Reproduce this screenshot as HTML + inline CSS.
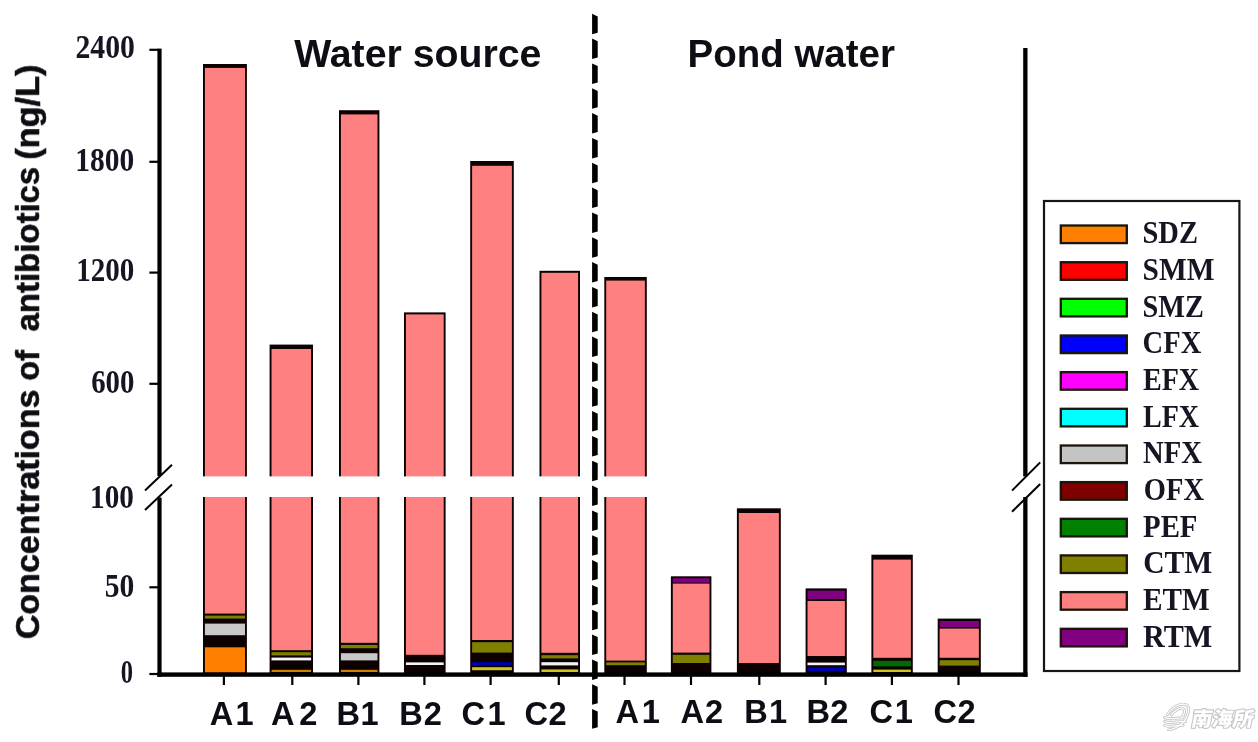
<!DOCTYPE html>
<html lang="en"><head><meta charset="utf-8"><title>Concentrations of antibiotics</title>
<style>
html,body{margin:0;padding:0;background:#fff;}
body{width:1258px;height:742px;overflow:hidden;}
svg{display:block;}
.sans{font-family:"Liberation Sans","Noto Sans CJK SC",sans-serif;font-weight:bold;fill:#0b0b12;}
.serif{font-family:"Liberation Serif","Noto Serif CJK SC",serif;font-weight:bold;fill:#141424;}
.wm{font-family:"Liberation Sans","Noto Sans CJK SC",sans-serif;font-weight:900;}
</style></head><body>
<svg width="1258" height="742" viewBox="0 0 1258 742">
<defs><filter id="soft" x="-2%" y="-2%" width="104%" height="104%"><feGaussianBlur stdDeviation="0.75"/></filter></defs>
<rect x="0" y="0" width="1258" height="742" fill="#ffffff"/>
<g filter="url(#soft)">
<g id="bars">
<rect x="203.0" y="64.0" width="43.9" height="609.4" fill="#0a0303"/>
<rect x="204.9" y="647.3" width="40.1" height="25.3" fill="#FF8000"/>
<rect x="204.9" y="623.6" width="40.1" height="11.6" fill="#C8C8C8"/>
<rect x="204.9" y="615.6" width="40.1" height="3.0" fill="#808000"/>
<rect x="204.9" y="67.9" width="40.1" height="545.7" fill="#FE8080"/>
<rect x="269.6" y="344.6" width="43.4" height="328.8" fill="#0a0303"/>
<rect x="271.5" y="669.8" width="39.6" height="2.2" fill="#D08000"/>
<rect x="271.5" y="657.6" width="39.6" height="2.8" fill="#F4F4F4"/>
<rect x="271.5" y="652.2" width="39.6" height="3.2" fill="#808000"/>
<rect x="271.5" y="349.0" width="39.6" height="301.2" fill="#FE8080"/>
<rect x="339.0" y="110.2" width="40.4" height="563.2" fill="#0a0303"/>
<rect x="340.9" y="669.8" width="36.6" height="2.2" fill="#D08000"/>
<rect x="340.9" y="653.2" width="36.6" height="7.2" fill="#C8C8C8"/>
<rect x="340.9" y="645.0" width="36.6" height="3.2" fill="#808000"/>
<rect x="340.9" y="114.4" width="36.6" height="528.4" fill="#FE8080"/>
<rect x="404.0" y="312.4" width="41.6" height="361.0" fill="#0a0303"/>
<rect x="405.9" y="662.4" width="37.8" height="2.6" fill="#F4F4F4"/>
<rect x="405.9" y="314.4" width="37.8" height="340.4" fill="#FE8080"/>
<rect x="470.2" y="161.0" width="43.6" height="512.4" fill="#0a0303"/>
<rect x="472.1" y="667.2" width="39.8" height="3.0" fill="#CEC41C"/>
<rect x="472.1" y="662.2" width="39.8" height="3.0" fill="#0000B0"/>
<rect x="472.1" y="642.2" width="39.8" height="10.4" fill="#808000"/>
<rect x="472.1" y="165.8" width="39.8" height="474.2" fill="#FE8080"/>
<rect x="539.5" y="270.8" width="40.5" height="402.6" fill="#0a0303"/>
<rect x="541.4" y="669.4" width="36.7" height="2.6" fill="#CEC41C"/>
<rect x="541.4" y="662.2" width="36.7" height="3.2" fill="#F4F4F4"/>
<rect x="541.4" y="655.2" width="36.7" height="3.2" fill="#808000"/>
<rect x="541.4" y="272.8" width="36.7" height="380.0" fill="#FE8080"/>
<rect x="604.3" y="277.0" width="42.5" height="396.4" fill="#0a0303"/>
<rect x="606.2" y="662.4" width="38.7" height="2.8" fill="#808000"/>
<rect x="606.2" y="280.6" width="38.7" height="380.0" fill="#FE8080"/>
<rect x="670.9" y="576.3" width="40.5" height="97.1" fill="#0a0303"/>
<rect x="672.8" y="654.8" width="36.7" height="8.2" fill="#808000"/>
<rect x="672.8" y="583.6" width="36.7" height="69.0" fill="#FE8080"/>
<rect x="672.8" y="578.2" width="36.7" height="4.4" fill="#800080"/>
<rect x="736.9" y="508.3" width="43.9" height="165.1" fill="#0a0303"/>
<rect x="738.8" y="513.0" width="40.1" height="150.0" fill="#FE8080"/>
<rect x="805.6" y="588.4" width="41.2" height="85.0" fill="#0a0303"/>
<rect x="807.5" y="667.2" width="37.4" height="4.0" fill="#0000B0"/>
<rect x="807.5" y="662.6" width="37.4" height="2.6" fill="#F4F4F4"/>
<rect x="807.5" y="601.0" width="37.4" height="55.0" fill="#FE8080"/>
<rect x="807.5" y="590.6" width="37.4" height="8.4" fill="#800080"/>
<rect x="871.4" y="554.7" width="41.4" height="118.7" fill="#0a0303"/>
<rect x="873.3" y="669.6" width="37.6" height="2.4" fill="#CEC41C"/>
<rect x="873.3" y="660.8" width="37.6" height="5.6" fill="#006A00"/>
<rect x="873.3" y="559.6" width="37.6" height="98.2" fill="#FE8080"/>
<rect x="937.7" y="618.6" width="43.1" height="54.8" fill="#0a0303"/>
<rect x="939.6" y="660.2" width="39.3" height="5.4" fill="#808000"/>
<rect x="939.6" y="628.6" width="39.3" height="29.2" fill="#FE8080"/>
<rect x="939.6" y="621.0" width="39.3" height="6.0" fill="#800080"/>
</g>
<rect x="166" y="476.4" width="850" height="20.6" fill="#ffffff"/>
<g id="axes" fill="#000000" stroke="none">
<rect x="157.4" y="48.6" width="4.2" height="427.4"/>
<rect x="157.4" y="497.6" width="4.2" height="179.2"/>
<rect x="1023.2" y="48.0" width="4.3" height="428.4"/>
<rect x="1023.2" y="497.0" width="4.3" height="179.8"/>
<rect x="157.4" y="672.4" width="870.1" height="4.4"/>
<rect x="149.4" y="48.7" width="9" height="2.2"/>
<rect x="149.4" y="160.7" width="9" height="2.2"/>
<rect x="149.4" y="271.5" width="9" height="2.2"/>
<rect x="149.4" y="382.7" width="9" height="2.2"/>
<rect x="149.4" y="586.2" width="9" height="2.2"/>
<rect x="149.4" y="672.9" width="9" height="2.2"/>
<rect x="222.8" y="676" width="2.2" height="9"/>
<rect x="291.2" y="676" width="2.2" height="9"/>
<rect x="357.3" y="676" width="2.2" height="9"/>
<rect x="423.3" y="676" width="2.2" height="9"/>
<rect x="489.5" y="676" width="2.2" height="9"/>
<rect x="557.7" y="676" width="2.2" height="9"/>
<rect x="623.4" y="676" width="2.2" height="9"/>
<rect x="689.9" y="676" width="2.2" height="9"/>
<rect x="758.2" y="676" width="2.2" height="9"/>
<rect x="824.5" y="676" width="2.2" height="9"/>
<rect x="890.8" y="676" width="2.2" height="9"/>
<rect x="957.4" y="676" width="2.2" height="9"/>
</g>
<g id="breaks" stroke="#000" stroke-width="2" stroke-linecap="butt" fill="none">
<line x1="145" y1="490.4" x2="172" y2="464.8"/>
<line x1="145" y1="510.0" x2="172" y2="484.4"/>
<line x1="1012" y1="490.6" x2="1040.2" y2="462.4"/>
<line x1="1012" y1="511.8" x2="1040.2" y2="484.0"/>
</g>
<path id="separator" fill="#000" d="M592.1 13.8L597.7 16.4L597.7 32.8L592.1 34.3ZM592.1 38.6L597.7 41.2L597.7 57.6L592.1 59.1ZM592.1 63.5L597.7 66.1L597.7 82.5L592.1 84.0ZM592.1 88.3L597.7 90.9L597.7 107.3L592.1 108.8ZM592.1 113.1L597.7 115.7L597.7 132.1L592.1 133.6ZM592.1 137.9L597.7 140.5L597.7 156.9L592.1 158.4ZM592.1 162.8L597.7 165.4L597.7 181.8L592.1 183.3ZM592.1 187.6L597.7 190.2L597.7 206.6L592.1 208.1ZM592.1 212.4L597.7 215.0L597.7 231.4L592.1 232.9ZM592.1 237.3L597.7 239.9L597.7 256.3L592.1 257.8ZM592.1 262.1L597.7 264.7L597.7 281.1L592.1 282.6ZM592.1 286.9L597.7 289.5L597.7 305.9L592.1 307.4ZM592.1 311.8L597.7 314.4L597.7 330.8L592.1 332.3ZM592.1 336.6L597.7 339.2L597.7 355.6L592.1 357.1ZM592.1 361.4L597.7 364.0L597.7 380.4L592.1 381.9ZM592.1 386.2L597.7 388.9L597.7 405.2L592.1 406.8ZM592.1 411.1L597.7 413.7L597.7 430.1L592.1 431.6ZM592.1 435.9L597.7 438.5L597.7 454.9L592.1 456.4ZM592.1 460.7L597.7 463.3L597.7 479.7L592.1 481.2ZM592.1 485.6L597.7 488.2L597.7 504.6L592.1 506.1ZM592.1 510.4L597.7 513.0L597.7 529.4L592.1 530.9ZM592.1 535.2L597.7 537.8L597.7 554.2L592.1 555.7ZM592.1 560.1L597.7 562.7L597.7 579.1L592.1 580.6ZM592.1 584.9L597.7 587.5L597.7 603.9L592.1 605.4ZM592.1 609.7L597.7 612.3L597.7 628.7L592.1 630.2ZM592.1 634.5L597.7 637.1L597.7 653.5L592.1 655.0ZM592.1 659.4L597.7 662.0L597.7 678.4L592.1 679.9ZM592.1 684.2L597.7 686.8L597.7 703.2L592.1 704.7ZM592.1 709.0L597.7 711.6L597.7 727.3L592.1 728.8Z"/>
<text class="serif" x="75.43" y="58.0" font-size="33.0" textLength="59.50" lengthAdjust="spacingAndGlyphs">2400</text>
<text class="serif" x="75.37" y="171.0" font-size="33.0" textLength="58.91" lengthAdjust="spacingAndGlyphs">1800</text>
<text class="serif" x="76.20" y="280.6" font-size="33.0" textLength="58.16" lengthAdjust="spacingAndGlyphs">1200</text>
<text class="serif" x="91.17" y="393.4" font-size="33.0" textLength="43.19" lengthAdjust="spacingAndGlyphs">600</text>
<text class="serif" x="90.02" y="507.8" font-size="33.0" textLength="43.85" lengthAdjust="spacingAndGlyphs">100</text>
<text class="serif" x="104.68" y="596.6" font-size="33.0" textLength="29.59" lengthAdjust="spacingAndGlyphs">50</text>
<text class="serif" x="120.75" y="682.8" font-size="33.0" textLength="12.27" lengthAdjust="spacingAndGlyphs">0</text>
<text class="sans" x="294.20" y="67.3" font-size="39.0" textLength="247.24" lengthAdjust="spacingAndGlyphs">Water source</text>
<text class="sans" x="687.62" y="67.3" font-size="39.0" textLength="207.24" lengthAdjust="spacingAndGlyphs">Pond water</text>
<text class="sans" x="209.8 235.6" y="725.2" font-size="32.6">A1</text>
<text class="sans" x="271.0 299.3" y="725.2" font-size="32.6">A2</text>
<text class="sans" x="336.5 360.4" y="725.2" font-size="32.6">B1</text>
<text class="sans" x="399.3 423.7" y="725.2" font-size="32.6">B2</text>
<text class="sans" x="461.4 487.6" y="725.2" font-size="32.6">C1</text>
<text class="sans" x="524.6 548.5" y="725.2" font-size="32.6">C2</text>
<text class="sans" x="615.6 641.7" y="722.9" font-size="32.6">A1</text>
<text class="sans" x="680.5 705.0" y="722.9" font-size="32.6">A2</text>
<text class="sans" x="744.2 768.9" y="722.9" font-size="32.6">B1</text>
<text class="sans" x="806.5 830.3" y="722.9" font-size="32.6">B2</text>
<text class="sans" x="869.5 894.7" y="722.9" font-size="32.6">C1</text>
<text class="sans" x="933.6 957.5" y="722.9" font-size="32.6">C2</text>
<text class="sans" transform="translate(39.0 639.2) rotate(-90)" font-size="33.4" stroke="#0b0b12" stroke-width="0.55"><tspan x="0.0" y="0" textLength="249.6" lengthAdjust="spacingAndGlyphs">Concentrations</tspan> <tspan x="258.4" y="0" textLength="30.6" lengthAdjust="spacingAndGlyphs">of</tspan> <tspan x="307.8" y="0" textLength="164.6" lengthAdjust="spacingAndGlyphs">antibiotics</tspan> <tspan x="479.4" y="0" textLength="95.4" lengthAdjust="spacingAndGlyphs">(ng/L)</tspan></text>
<g id="legend">
<rect x="1044" y="201" width="195.4" height="470" fill="#ffffff" stroke="#161616" stroke-width="2.2"/>
<rect x="1060.8" y="225.5" width="66" height="17.6" fill="#FF8000" stroke="#1a1208" stroke-width="2.3"/>
<text class="serif" x="1142.52" y="243.2" font-size="31.6" textLength="55.37" lengthAdjust="spacingAndGlyphs">SDZ</text>
<rect x="1060.8" y="262.2" width="66" height="17.6" fill="#FF0000" stroke="#1a1208" stroke-width="2.3"/>
<text class="serif" x="1142.57" y="279.9" font-size="31.6" textLength="71.81" lengthAdjust="spacingAndGlyphs">SMM</text>
<rect x="1060.8" y="298.8" width="66" height="17.6" fill="#00FF00" stroke="#1a1208" stroke-width="2.3"/>
<text class="serif" x="1142.56" y="316.5" font-size="31.6" textLength="61.22" lengthAdjust="spacingAndGlyphs">SMZ</text>
<rect x="1060.8" y="335.5" width="66" height="17.6" fill="#0000FF" stroke="#1a1208" stroke-width="2.3"/>
<text class="serif" x="1142.59" y="353.2" font-size="31.6" textLength="58.69" lengthAdjust="spacingAndGlyphs">CFX</text>
<rect x="1060.8" y="372.1" width="66" height="17.6" fill="#FF00FF" stroke="#1a1208" stroke-width="2.3"/>
<text class="serif" x="1142.99" y="389.8" font-size="31.6" textLength="56.15" lengthAdjust="spacingAndGlyphs">EFX</text>
<rect x="1060.8" y="408.8" width="66" height="17.6" fill="#00FFFF" stroke="#1a1208" stroke-width="2.3"/>
<text class="serif" x="1142.99" y="426.5" font-size="31.6" textLength="56.15" lengthAdjust="spacingAndGlyphs">LFX</text>
<rect x="1060.8" y="445.5" width="66" height="17.6" fill="#C4C4C4" stroke="#1a1208" stroke-width="2.3"/>
<text class="serif" x="1142.99" y="463.2" font-size="31.6" textLength="58.83" lengthAdjust="spacingAndGlyphs">NFX</text>
<rect x="1060.8" y="482.1" width="66" height="17.6" fill="#800000" stroke="#1a1208" stroke-width="2.3"/>
<text class="serif" x="1143.79" y="499.8" font-size="31.6" textLength="60.25" lengthAdjust="spacingAndGlyphs">OFX</text>
<rect x="1060.8" y="518.8" width="66" height="17.6" fill="#008000" stroke="#1a1208" stroke-width="2.3"/>
<text class="serif" x="1143.00" y="536.5" font-size="31.6" textLength="54.50" lengthAdjust="spacingAndGlyphs">PEF</text>
<rect x="1060.8" y="555.4" width="66" height="17.6" fill="#808000" stroke="#1a1208" stroke-width="2.3"/>
<text class="serif" x="1143.17" y="573.1" font-size="31.6" textLength="69.12" lengthAdjust="spacingAndGlyphs">CTM</text>
<rect x="1060.8" y="592.1" width="66" height="17.6" fill="#FF8080" stroke="#1a1208" stroke-width="2.3"/>
<text class="serif" x="1142.99" y="609.8" font-size="31.6" textLength="66.71" lengthAdjust="spacingAndGlyphs">ETM</text>
<rect x="1060.8" y="628.8" width="66" height="17.6" fill="#800080" stroke="#1a1208" stroke-width="2.3"/>
<text class="serif" x="1143.00" y="646.5" font-size="31.6" textLength="69.36" lengthAdjust="spacingAndGlyphs">RTM</text>
</g>
</g>
<g id="watermark" filter="url(#soft)">
<path d="M1167.4 714.6 C1171 708 1178 703.6 1184.6 704.2 C1190 705 1189.6 711.4 1186.4 717.6 C1183.4 723.4 1177 728.6 1168.6 730" fill="none" stroke="#c9c9c9" stroke-width="3" stroke-linecap="round"/>
<path d="M1171.4 714.8 C1174.6 710.4 1179.6 707.6 1183 708.4 C1185.6 709.4 1184.8 713.6 1182 717.4" fill="none" stroke="#c9c9c9" stroke-width="3" stroke-linecap="round"/>
<path d="M1164.6 717.6 C1170 720.6 1177 717.2 1185.2 717.8" fill="none" stroke="#c9c9c9" stroke-width="3" stroke-linecap="round"/>
<path d="M1164.6 721.4 C1170 724.4 1177 721 1185.6 721.4" fill="none" stroke="#c9c9c9" stroke-width="3" stroke-linecap="round"/>
<path d="M1164.6 725.2 C1170 728.2 1176 724.8 1183.2 725.2" fill="none" stroke="#c9c9c9" stroke-width="3" stroke-linecap="round"/>
<path d="M1167.4 714.6 C1171 708 1178 703.6 1184.6 704.2 C1190 705 1189.6 711.4 1186.4 717.6 C1183.4 723.4 1177 728.6 1168.6 730" fill="none" stroke="#ffffff" stroke-width="1.1" stroke-linecap="round"/>
<path d="M1171.4 714.8 C1174.6 710.4 1179.6 707.6 1183 708.4 C1185.6 709.4 1184.8 713.6 1182 717.4" fill="none" stroke="#ffffff" stroke-width="1.1" stroke-linecap="round"/>
<path d="M1164.6 717.6 C1170 720.6 1177 717.2 1185.2 717.8" fill="none" stroke="#ffffff" stroke-width="1.1" stroke-linecap="round"/>
<path d="M1164.6 721.4 C1170 724.4 1177 721 1185.6 721.4" fill="none" stroke="#ffffff" stroke-width="1.1" stroke-linecap="round"/>
<path d="M1164.6 725.2 C1170 728.2 1176 724.8 1183.2 725.2" fill="none" stroke="#ffffff" stroke-width="1.1" stroke-linecap="round"/>
<text class="wm" transform="translate(1190.4 726.4) skewX(-11)" x="0" y="0" font-size="20" textLength="62.0" lengthAdjust="spacingAndGlyphs" fill="#ffffff" stroke="#c6c6c6" stroke-width="2.2" stroke-linejoin="round" paint-order="stroke">南海所</text>
</g>
</svg>
</body></html>
